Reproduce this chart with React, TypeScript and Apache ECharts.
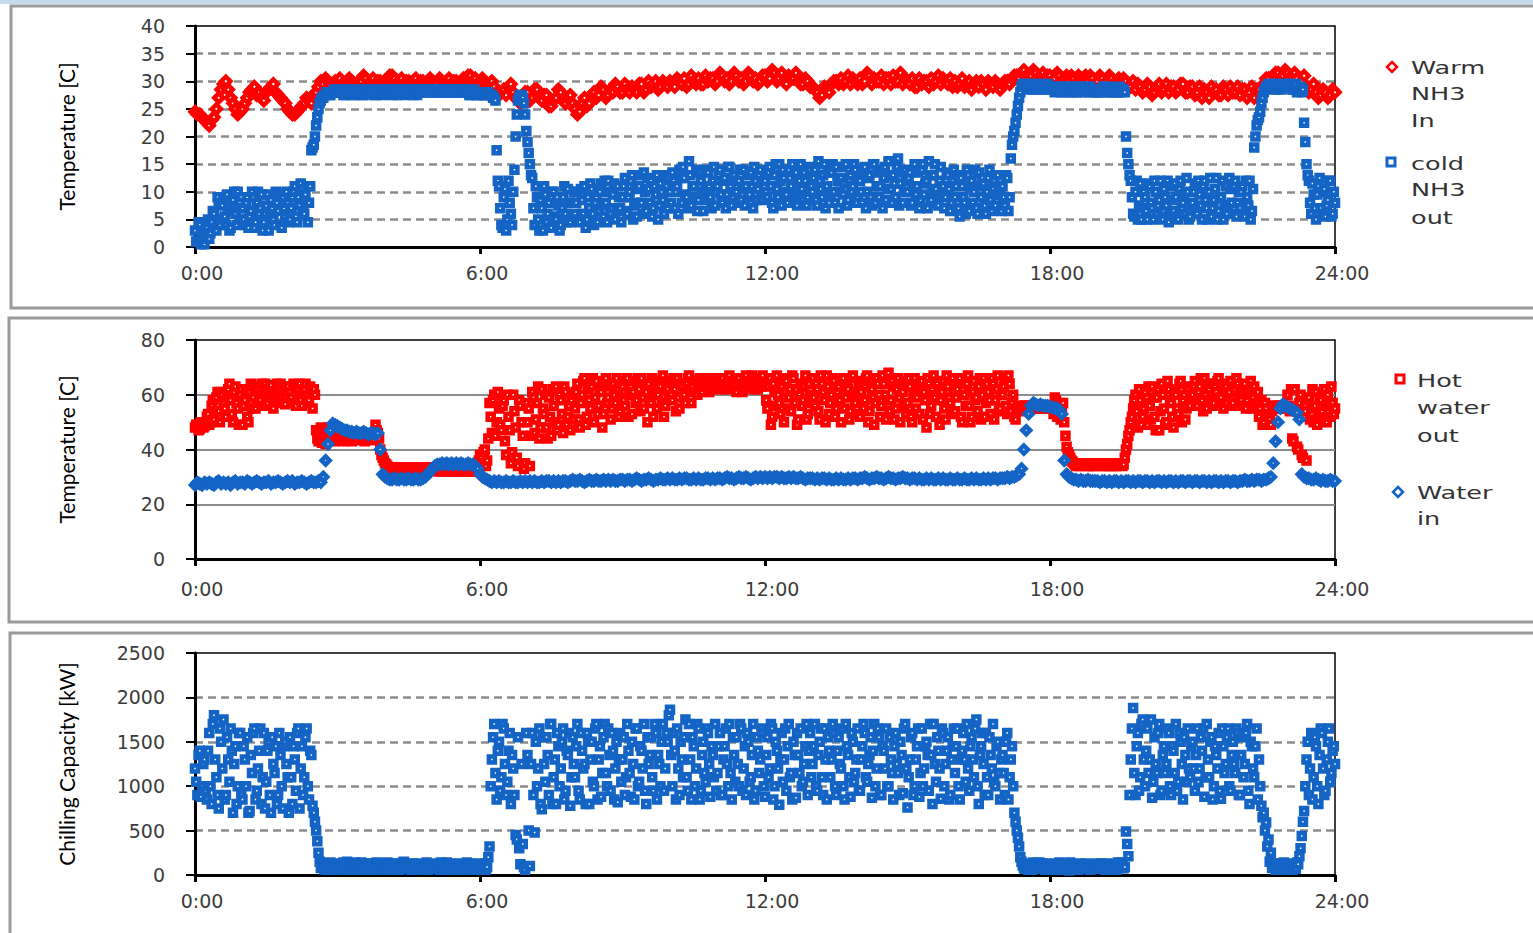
import { useEffect, useRef } from 'react';
import * as echarts from 'echarts';

// ---- sampling (hours) ----
const STEP_FINE = 0.05;
const STEP_COARSE = 0.1;

// ---- panel 1: Temperature [C] ----
// Warm NH3 In, read at 0.0, 0.1, 0.2 ... h
const warmNH3In = [
  24.5, 24, 23, 22, 23.5, 27, 29.5, 28.5, 26, 24,
  25, 27, 28.5, 27.5, 27, 28, 29, 28, 27, 26,
  24.5, 24, 25, 26, 26.5, 27.5, 29, 29.5, 30, 29.5,
  30, 29.5, 30, 30, 29.5, 30, 30.5, 30, 29.5, 30,
  30, 31, 30.5, 30, 29.5, 30, 30, 29.5, 30, 30,
  30, 29.5, 30, 30, 29.5, 30, 30, 30.5, 31, 30.5,
  30, 30, 29.5, 29, 27.5, 28.5, 29, 28, 26.5, 27,
  28, 27, 28.5, 26.5, 27.5, 25.5, 27, 28, 26, 27.5,
  25, 24.5, 27, 26, 28, 27.5, 28.5, 27.5, 28, 29,
  28, 28.5, 29, 28, 29.5, 28.5, 29, 30, 29, 29.5,
  30, 29, 30, 30.5, 29.5, 30, 30.5, 29.5, 30, 30.5,
  30, 31, 30.5, 30, 31, 30.5, 30, 31, 30.5, 30,
  31, 30.5, 31.5, 30.5, 30, 31, 30.5, 30, 29.5, 30,
  29, 28, 27.5, 28.5, 29.5, 30, 30.5, 30, 29.5, 30,
  30.5, 30, 31, 30.5, 30, 29.5, 30.5, 31, 30, 29.5,
  30, 30.5, 29, 29.5, 30, 30.5, 30, 29.5, 30, 30.5,
  30, 29.5, 29, 30, 29.5, 29, 29.5, 30, 29, 29.5,
  29.5, 30, 30.5, 31, 31.5, 31, 31, 31.5, 31, 30.5,
  31, 30.5, 31, 30.5, 30, 30.5, 31, 30.5, 30, 30.5,
  30, 30.5, 30, 30.5, 30, 29.5, 30, 29, 28.5, 29,
  28.5, 29, 28, 29.5, 28.5, 28, 29, 28.5, 29.5, 28,
  29, 28, 27, 28, 29, 28.5, 27.5, 28.5, 29, 28,
  27.5, 28.5, 28, 27, 28.5, 29.5, 30.5, 31, 31.5, 31,
  31.5, 31, 30.5, 30, 29, 28.5, 28, 27.5, 28, 27.5,
  28,
];
// Warm NH3 In, read at 0.05, 0.15, 0.25 ... h
const warmNH3InMid = [
  24, 23.5, 22.5, 23, 25, 28.5, 30, 27, 25, 24.5,
  26, 28, 29, 28, 26.5, 28.5, 29.5, 27.5, 26.5, 25,
  24, 24.5, 25.5, 27, 26, 28, 30, 30.5, 29.5, 30,
  30.5, 29.5, 30.5, 29.5, 30, 31, 29.5, 30.5, 30, 29.5,
  30.5, 31, 29.5, 30.5, 30, 29.5, 30.5, 30, 29.5, 30.5,
  29.5, 30.5, 29.5, 30.5, 30, 29.5, 30.5, 31, 30, 29.5,
  30.5, 29.5, 30, 28, 28, 27.5, 29.5, 27, 26, 28,
  26.5, 28.5, 27, 27.5, 25.5, 26.5, 28.5, 26.5, 27, 26,
  24, 26, 25.5, 27.5, 27, 29, 27, 28.5, 29.5, 28,
  29.5, 28, 28.5, 29.5, 28, 30, 29.5, 28.5, 30, 29,
  29.5, 30.5, 29.5, 29, 31, 29.5, 29.5, 31, 30.5, 29.5,
  31.5, 30, 29.5, 31.5, 30, 29.5, 31.5, 30, 29.5, 31,
  30, 32, 30, 31.5, 29.5, 30.5, 31.5, 29.5, 30.5, 29,
  28.5, 27, 29, 28, 30, 29.5, 29.5, 31, 30.5, 29.5,
  29.5, 31.5, 29.5, 30, 31, 30.5, 29.5, 30, 31.5, 30.5,
  29.5, 29, 30.5, 30, 29, 29.5, 31, 30.5, 29.5, 29,
  29, 30.5, 29.5, 28.5, 30, 30, 28.5, 29.5, 30, 28.5,
  30, 29.5, 31, 30.5, 32, 30.5, 32, 30.5, 31.5, 31,
  30, 31.5, 30, 31, 31, 29.5, 30.5, 31, 31, 29.5,
  31, 29.5, 31, 29.5, 30.5, 30.5, 29, 30, 29.5, 28,
  29.5, 27.5, 29, 28, 29.5, 29, 28, 29.5, 28, 29,
  27.5, 29, 28.5, 27, 28, 27.5, 29, 27.5, 28, 29,
  28.5, 27, 29, 28.5, 27.5, 30.5, 29.5, 31.5, 30.5, 32,
  30.5, 31.5, 29.5, 31, 28, 29.5, 27, 28.5, 27, 28.5,
];

// cold NH3 out, read at 0.00, 0.05, 0.10 ... h
const coldNH3Out = [
  3, 1, 4, 2, 0.5, 3.5, 1.5, 4.5, 6, 3, 8, 5, 9, 4, 7, 3.5, 8.5, 6, 10, 5,
  7, 4, 9, 5.5, 10, 3.5, 8, 6, 9.5, 4.5, 7.5, 3, 8.5, 5, 10, 6.5, 4, 9, 5.5, 8,
  5, 9, 11, 4.5, 7.5, 10.5, 6, 11, 8, 17.5, 18.5, 22, 25, 26.5, 27, 27.5, 28, 27.5, 28, 28,
  28, 28.5, 28, 27.5, 28, 28.5, 28, 27.5, 28, 28.5, 28, 27.5, 28, 28, 28.5, 28, 27.5, 28, 28.5, 28,
  28, 28.5, 28, 28.5, 28, 27.5, 28, 28.5, 28, 28, 28.5, 28, 27.5, 28, 28.5, 28, 28, 28.5, 28, 28.5,
  28, 28.5, 28, 28, 28.5, 28, 28.5, 28, 28, 28.5, 28, 28.5, 28, 28, 28.5, 28, 27.5, 28, 28, 27.5,
  27.5, 28, 27.5, 28, 27.5, 27.5, 27, 17.5, 11, 4, 9, 3, 12, 6, 10, 20, 26.5, 27.5, 27, 24,
  19, 15, 12.5, 4, 9, 3, 7, 11, 4.5, 8, 3.5, 10, 5, 7.5, 4, 9, 6, 10.5, 4.5, 8,
  6, 10, 4.5, 8.5, 11, 5, 7, 10.5, 4, 9, 6.5, 11.5, 5.5, 8, 12, 6, 9.5, 5, 11, 7,
  9, 12.5, 6, 10, 13, 7.5, 5.5, 11, 8, 13.5, 6.5, 10.5, 12, 7, 9.5, 5, 11.5, 8.5, 13, 7,
  10, 13.5, 7, 11, 14, 8, 12.5, 9, 15.5, 7.5, 11, 14, 8.5, 12, 6.5, 10.5, 13.5, 9, 12, 7.5,
  11, 14, 8, 12.5, 9.5, 14.5, 7.5, 13, 10, 12, 8.5, 14, 11, 9, 13.5, 7, 12, 10.5, 14, 8.5,
  12, 9, 14.5, 8, 13, 10.5, 15, 7.5, 12.5, 9.5, 14, 11, 8, 13.5, 10, 15, 8.5, 12, 9, 14,
  10, 14, 7.5, 12, 9, 15, 11, 8, 13.5, 10, 14.5, 7, 12.5, 9.5, 15, 8.5, 13, 11, 14, 9,
  12, 8, 14.5, 10, 13, 7.5, 15, 11, 9, 14, 12.5, 8.5, 15.5, 10.5, 13, 9, 16, 11.5, 8, 14,
  10, 13.5, 8, 15, 11, 7, 14, 9.5, 12, 15.5, 8.5, 13, 10.5, 7.5, 14.5, 11, 9, 13, 6.5, 12,
  9, 13, 5.5, 11, 8, 14, 6.5, 12, 10, 7, 13.5, 9, 11.5, 6, 12.5, 8.5, 10.5, 7.5, 13, 9.5,
  11, 7.5, 12.5, 9, 18.5, 21, 24, 27, 29, 29.5, 29, 29.5, 29, 28.5, 29, 29.5, 29, 28.5, 29, 29.5,
  28.5, 29, 28, 28.5, 29, 28.5, 28, 28.5, 29, 28.5, 28, 28.5, 29, 28.5, 28, 28.5, 28.5, 29, 28.5, 28,
  28.5, 28, 28.5, 29, 28.5, 28, 28.5, 28.5, 28, 28.5, 28, 28.5, 20, 15, 12, 6, 10, 5, 11.5, 7,
  9, 5, 11, 7, 12, 6, 8.5, 5.5, 10.5, 7.5, 4.5, 11, 6.5, 9, 5, 12, 8, 6, 10, 5.5,
  8, 11.5, 6, 9.5, 5, 12, 7, 10, 5.5, 8.5, 12.5, 6.5, 9, 5, 11, 7.5, 10.5, 6, 12, 8,
  7, 11, 5.5, 9, 12, 6.5, 18, 22, 23.5, 26, 28, 29, 29.5, 29, 29.5, 29, 28.5, 29, 29.5, 29,
  29, 29.5, 28.5, 29, 28, 28.5, 28, 22.5, 15, 12, 6, 9.5, 5, 11, 7, 10, 5.5, 8.5, 12, 6,
  8,
];
// cold NH3 out, read at 0.025, 0.075, 0.125 ... h
const coldNH3OutMid = [
  1, 4.5, 0.5, 3, 2, 5, 2.5, 6.5, 3.5, 9, 4, 7.5, 5.5, 9.5, 3, 6.5, 10, 4, 7, 9,
  5, 8, 3.5, 6.5, 9, 4.5, 10, 7, 3, 6, 9.5, 5.5, 7, 4, 8, 9.5, 3.5, 7, 10, 4.5,
  7, 10, 5.5, 9, 11.5, 6.5, 9.5, 4.5, 11, 18, 20, 23.5, 26, 27, 27.5, 28, 27.5, 28, 28.5, 28,
  28.5, 28, 27.5, 28, 28.5, 28, 27.5, 28, 28.5, 28, 27.5, 28, 28.5, 28, 28, 27.5, 28, 28.5, 28, 27.5,
  28.5, 28, 28, 27.5, 28.5, 28, 28.5, 28, 27.5, 28.5, 28, 28, 28.5, 27.5, 28, 28, 28.5, 28, 28.5, 28,
  28.5, 28, 28.5, 28, 28, 28.5, 28, 28, 28.5, 28, 28, 28.5, 28, 28.5, 28, 27.5, 28, 28.5, 27.5, 28,
  28, 27.5, 27.5, 28, 27.5, 27, 26.5, 12, 7, 3.5, 10.5, 5, 8, 4, 14, 24, 27, 27.5, 26, 21,
  17, 13, 7, 11, 5, 8.5, 3, 9.5, 6, 3.5, 10, 5.5, 9, 3, 7, 11, 4.5, 8, 5.5, 10,
  8, 5, 10.5, 6, 3.5, 9, 11.5, 6, 8, 4.5, 10, 7.5, 12, 4.5, 10, 7, 11.5, 6.5, 9, 4.5,
  11, 6.5, 9, 12, 5, 10.5, 8, 13, 6, 10, 12.5, 8, 5.5, 11, 13, 7.5, 10, 6, 11, 12.5,
  8, 12, 10, 6, 12.5, 14.5, 9.5, 7, 13, 11, 9, 6.5, 13.5, 10, 14, 8.5, 11, 7, 14.5, 10,
  13, 9.5, 12, 7, 14.5, 11, 9, 12, 8, 14, 10.5, 7.5, 13, 9.5, 11, 14.5, 8.5, 13, 9, 12,
  10, 13.5, 11, 7, 15, 9, 12, 14, 10, 8, 12.5, 15, 9.5, 7.5, 12, 10.5, 13.5, 7.5, 14.5, 11,
  12.5, 8.5, 15.5, 10.5, 13, 7, 13.5, 9.5, 15, 8, 12, 10, 14.5, 11.5, 7.5, 12, 10, 15, 8, 12.5,
  10, 14, 7, 12.5, 9, 15, 8, 13.5, 11, 7, 14.5, 10.5, 13, 8, 11.5, 14.5, 7.5, 13.5, 10, 12,
  12.5, 7.5, 11, 9.5, 13.5, 8.5, 15, 11.5, 7, 13, 10, 15, 8, 12, 9.5, 7, 13.5, 10.5, 8, 14,
  11, 7, 12.5, 9, 6, 13, 10.5, 8, 14, 6, 11, 12.5, 7.5, 10, 14, 6.5, 12, 9.5, 11, 6.5,
  9, 13, 6.5, 16, 20, 22.5, 25.5, 28, 29.5, 29, 28.5, 29, 29.5, 29, 28.5, 29, 29.5, 28.5, 29, 28.5,
  29, 28.5, 28.5, 29, 28, 28.5, 29, 28.5, 28, 29, 28.5, 28, 28.5, 29, 28.5, 29, 28, 28.5, 28, 28.5,
  28, 28.5, 29, 28, 28.5, 29, 28, 28.5, 28, 29, 28.5, 28, 17, 13, 9, 5.5, 12, 7.5, 5, 10,
  6.5, 11.5, 8, 5, 10, 7.5, 12, 5, 9, 12, 6, 8.5, 11.5, 5.5, 10.5, 7, 9.5, 12.5, 5, 7.5,
  10, 6, 12, 7.5, 11, 8.5, 5, 12.5, 7, 10.5, 5, 9, 12, 7.5, 6, 12.5, 8, 11, 5.5, 10,
  10, 6, 12, 7.5, 5, 10.5, 20, 23, 24.5, 27, 28.5, 29, 29, 29.5, 28.5, 29.5, 29, 28.5, 29, 29.5,
  29.5, 29, 28.5, 29.5, 28.5, 29, 28.5, 19, 13, 8, 11.5, 7, 9.5, 12.5, 6, 10.5, 7.5, 12, 5.5, 10,
];

// ---- panel 2: Temperature [C] ----
// Hot water out, read at 0.00, 0.05 ... h
const hotWaterOut = [
  48, 49, 47.5, 50, 48.5, 52, 49, 56, 51, 59, 54, 61, 57, 52, 62, 58, 50, 63, 55, 60,
  49, 58, 52, 61, 55, 63, 57, 60, 64, 56, 62, 59, 63.5, 55, 61, 58, 64, 60, 56.5, 63,
  61, 57, 63, 59, 64, 56, 62, 60, 58, 61, 62, 47, 43, 48, 45, 42, 46, 44, 47, 44,
  45, 44, 43.5, 44.5, 45, 44, 43, 44.5, 45, 44, 43.5, 44, 45, 44.5, 43.5, 44, 49, 46, 40, 37,
  35, 34, 33.5, 33, 33.5, 33, 32.5, 33, 33.5, 33, 33, 33.5, 33, 32.5, 33, 33.5, 33, 32.5, 33, 33,
  33, 32.5, 33, 32.5, 32, 32.5, 33, 32, 32.5, 32, 32.5, 33, 32, 32.5, 32, 33, 32.5, 32, 33, 34,
  38, 35, 40, 36, 57, 46, 60, 50, 55, 47, 58, 38, 52, 35, 60, 48, 34, 56, 45, 35,
  50, 34, 61, 46, 57, 44, 62, 53, 48, 59, 45, 56, 63, 49, 58, 46, 61, 52, 47, 60,
  55, 64, 48, 60, 66, 52, 58, 63, 50, 65, 56, 61, 53, 66, 59, 51, 64, 57, 62, 54,
  63, 56, 66, 60, 53, 65, 58, 62, 66, 55, 61, 64, 57, 52, 65, 60, 63, 67, 56, 62,
  65, 58, 62, 66, 55, 63, 60, 64, 67, 57, 61, 65, 62, 64, 66, 63, 65, 62, 66, 64,
  65, 63, 66, 62, 64, 67, 63, 65, 61, 66, 64, 62, 67, 65, 63, 66, 64, 62, 65, 67,
  64, 55, 66, 52, 61, 67, 57, 63, 50, 65, 59, 54, 66, 62, 51, 64, 58, 67, 53, 60,
  66, 56, 62, 51, 64, 58, 67, 53, 60, 65, 55, 63, 50, 66, 59, 62, 54, 67, 57, 61,
  52, 65, 58, 67, 54, 62, 49, 66, 60, 56, 64, 51, 68, 58, 63, 55, 66, 50, 61, 65,
  57, 63, 50, 66, 59, 53, 65, 61, 48, 64, 56, 67, 52, 62, 58, 65, 51, 63, 57, 66,
  54, 62, 66, 50, 60, 64, 56, 52, 65, 59, 63, 51, 66, 57, 61, 53, 64, 58, 67, 55,
  60, 66, 53, 64, 57, 52, 55, 54, 56, 55, 56, 55.5, 56, 55, 56.5, 55, 56, 55.5, 56, 55,
  55, 56, 59, 52, 57, 54, 50, 41, 38, 36, 35, 34, 35, 34.5, 35, 34, 35, 34.5, 34, 35,
  34.5, 35, 34, 34.5, 35, 34, 34.5, 35, 34, 34.5, 35, 34.5, 40, 45, 50, 55, 60, 48, 58, 52,
  61, 49, 56, 63, 52, 59, 47, 64, 55, 50, 62, 57, 48, 60, 53, 65, 58, 51, 63, 56,
  60, 65, 56, 63, 58, 66, 55, 62, 64, 57, 61, 66, 59, 55, 63, 60, 65, 57, 62, 64,
  62, 56, 64, 58, 60, 55, 63, 57, 52, 58, 50, 55, 53, 49, 56, 55.5, 56, 55, 56, 55.5,
  60, 54, 44, 62, 41, 57, 38, 52, 36, 59, 55, 50, 61, 53, 58, 51, 56, 60, 52, 57,
  55,
];
// Hot water out, read at 0.025, 0.075 ... h
const hotWaterOutMid = [
  49, 47, 50, 48, 49.5, 53, 50, 58, 54, 61, 50, 60, 55, 59, 64, 53, 61, 57, 49, 62,
  56, 61, 50, 64, 59, 55, 62, 58, 61, 64, 57, 63, 60, 58, 64, 62, 57, 63, 59, 61,
  59, 64, 56, 62, 58, 61, 64, 57, 63, 55, 60, 44, 46, 42.5, 47, 43, 48, 45, 43, 46,
  44, 45, 43, 44.5, 43.5, 45, 44, 43.5, 44.5, 45, 44, 43, 44.5, 44, 45, 43.5, 47, 44, 38, 36,
  34.5, 33.5, 33, 33.5, 33, 32.5, 33.5, 33, 32.5, 33, 33.5, 33, 32.5, 33, 33.5, 33, 32.5, 33, 33.5, 32.5,
  32.5, 33, 32, 33, 32.5, 33, 32, 32.5, 33, 32.5, 32, 32.5, 33, 32, 32.5, 32.5, 32, 32.5, 33.5, 36,
  37, 39, 34, 44, 52, 58, 45, 61, 49, 56, 43, 60, 47, 39, 54, 37, 58, 50, 33, 57,
  55, 45, 59, 51, 63, 48, 55, 60, 44, 52, 62, 50, 47, 60, 53, 63, 49, 56, 58, 51,
  61, 51, 57, 65, 49, 62, 55, 66, 59, 53, 62, 48, 64, 57, 63, 55, 60, 66, 52, 59,
  58, 65, 52, 63, 61, 57, 66, 54, 59, 63, 50, 58, 66, 61, 55, 64, 57, 52, 64, 59,
  60, 66, 54, 59, 64, 61, 57, 66, 62, 63, 65, 60, 66, 61, 63, 65, 61, 64, 63, 66,
  62, 66, 64, 63, 66, 62, 65, 64, 66, 63, 61, 65, 63, 64, 67, 62, 65, 66, 63, 64,
  58, 63, 49, 64, 56, 60, 53, 66, 61, 55, 62, 67, 57, 49, 60, 56, 63, 51, 64, 57,
  59, 64, 54, 67, 61, 50, 63, 57, 66, 52, 61, 58, 65, 55, 63, 51, 66, 60, 53, 64,
  61, 55, 66, 50, 63, 59, 57, 64, 52, 67, 60, 58, 54, 65, 51, 62, 59, 64, 56, 53,
  66, 52, 60, 55, 64, 62, 51, 58, 66, 53, 62, 59, 64, 49, 61, 55, 67, 59, 53, 61,
  59, 65, 52, 62, 56, 67, 50, 61, 58, 54, 66, 60, 52, 64, 58, 66, 51, 62, 54, 60,
  63, 56, 67, 54, 60, 51, 56, 55, 55.5, 56, 55, 56, 55.5, 56, 55, 55.5, 56, 55, 55.5, 56,
  56, 53, 58, 55, 51, 57, 45, 39, 37, 35.5, 34.5, 35, 34, 35, 34.5, 35, 34, 35, 34.5, 34,
  35, 34.5, 35, 34, 34.5, 35, 34, 35, 34.5, 35, 34, 37, 42, 47, 52, 58, 54, 62, 49, 55,
  57, 63, 51, 59, 47, 62, 54, 60, 49, 65, 58, 52, 61, 55, 64, 50, 60, 55, 62, 59,
  63, 57, 61, 66, 54, 60, 64, 58, 56, 63, 65, 58, 62, 64, 57, 61, 56, 63, 66, 59,
  58, 63, 55, 61, 65, 59, 56, 61, 55, 49, 57, 52, 51, 54, 56, 55, 55.5, 56, 55, 56,
  56, 62, 43, 55, 40, 60, 37, 54, 58, 51, 62, 56, 49, 59, 54, 62, 50, 57, 63, 53,
];

// Water in, read at 0.00, 0.05 ... h
const waterIn = [
  27, 28, 27.5, 27, 28, 27.5, 28, 27.5, 27, 28, 28.5, 27.5, 28, 27.5, 28, 27, 28, 28.5, 27.5, 28,
  28, 27.5, 28.5, 28, 27.5, 28, 28.5, 28, 27.5, 28, 28, 28.5, 27.5, 28, 28, 28.5, 28, 27.5, 28, 28.5,
  28, 28.5, 27.5, 28, 28, 28.5, 28, 27.5, 28, 28.5, 28, 28, 28.5, 28, 30, 36, 42, 47, 49.5, 49,
  48.5, 48, 47.5, 47, 47, 46.5, 46.5, 46, 46.5, 46, 46, 46.5, 46, 45.5, 46, 46, 45.5, 46, 40, 31,
  30, 29.5, 29, 29, 29.5, 29, 29, 29.5, 29, 29, 29.5, 29, 29, 29.5, 29, 29, 29.5, 30, 31, 32,
  33, 34, 34.5, 34.5, 35, 34.5, 35, 34.5, 35, 34.5, 35, 34.5, 35, 34.5, 34.5, 35, 34.5, 34.5, 34, 33,
  31, 30, 29.5, 29, 28.5, 28, 28.5, 28, 28.5, 28, 28, 28.5, 28, 28, 28.5, 28, 28, 28.5, 28, 28.5,
  28, 28.5, 28, 28.5, 28, 28, 28.5, 28, 28.5, 28.5, 28, 28.5, 28, 28.5, 28, 28.5, 28.5, 28, 28.5, 29,
  28.5, 28.5, 29, 28.5, 28, 28.5, 29, 28.5, 28.5, 29, 28.5, 28.5, 29, 28.5, 29, 28.5, 29, 28.5, 28.5, 29,
  29, 28.5, 29, 29, 28.5, 29, 29.5, 29, 28.5, 29, 29, 29.5, 29, 28.5, 29, 29, 29.5, 29, 29, 29.5,
  29, 29.5, 29, 29, 29.5, 29, 29.5, 29.5, 29, 29, 29.5, 29, 29.5, 29, 29, 29.5, 29.5, 29, 29.5, 29,
  29.5, 29.5, 29, 29.5, 30, 29.5, 29.5, 29, 29.5, 30, 29.5, 29.5, 30, 29.5, 29, 29.5, 30, 29.5, 30, 29.5,
  30, 29.5, 30, 29.5, 30, 30, 29.5, 30, 29.5, 29.5, 30, 29.5, 30, 29.5, 29.5, 30, 29.5, 29, 29.5, 29.5,
  29.5, 29, 29.5, 29, 29.5, 29.5, 29, 29.5, 29, 29, 29.5, 29, 29.5, 29, 29, 29.5, 29, 29.5, 29.5, 29,
  29.5, 29.5, 30, 29.5, 29, 29.5, 29.5, 30, 29.5, 29.5, 29, 29.5, 30, 29.5, 29.5, 29, 29.5, 29.5, 30, 29.5,
  29.5, 29, 29.5, 29.5, 29, 29.5, 29, 29, 29.5, 29, 29.5, 29, 29, 29.5, 29, 29.5, 29, 29, 29.5, 29,
  29, 29.5, 29, 29, 29.5, 29, 29, 29.5, 29, 29.5, 29, 29, 29.5, 29, 29.5, 29, 29.5, 29.5, 29, 29.5,
  29.5, 29.5, 30, 29.5, 30, 30, 30.5, 31, 33, 40, 47, 53, 56, 57, 56.5, 56, 56.5, 56, 56, 56,
  55.5, 55.5, 55, 55, 54.5, 53, 36, 31, 30, 29.5, 29, 29, 28.5, 29, 28.5, 28.5, 29, 28.5, 28.5, 28.5,
  28.5, 28, 28.5, 28.5, 28, 28.5, 28, 28.5, 28.5, 28, 28.5, 28, 28.5, 28.5, 28, 28.5, 28, 28.5, 28.5, 28,
  28.5, 28.5, 28, 28.5, 28, 28.5, 28.5, 28, 28.5, 28, 28.5, 28.5, 28, 28.5, 28, 28.5, 28.5, 28, 28.5, 28.5,
  28, 28.5, 28.5, 28, 28.5, 28.5, 28, 28.5, 28, 28.5, 28.5, 28, 28.5, 28, 28.5, 28.5, 28, 28.5, 28.5, 28,
  28.5, 28.5, 29, 28.5, 28.5, 29, 28.5, 29, 29, 28.5, 29, 29, 29.5, 30, 35, 43, 50, 55, 56.5, 56,
  55.5, 55, 54.5, 54, 53.5, 51, 31, 30, 29.5, 29.5, 29, 29, 29.5, 29, 28.5, 29, 28.5, 28.5, 29, 28.5,
  28.5,
];

// ---- panel 3: Chilling Capacity [kW] ----
// read at 0.00, 0.05 ... h
const chillingCapacity = [
  1200, 900, 1400, 1000, 1300, 850, 1600, 800, 1800, 1100, 750, 1500, 1750, 900, 1300, 1650, 700, 1450, 1000, 1600,
  850, 1300, 1550, 720, 1150, 1650, 950, 1400, 800, 1600, 1050, 1500, 700, 1250, 1450, 900, 1350, 750, 1500, 1100,
  1550, 800, 1300, 1600, 750, 1450, 1100, 1650, 850, 1350, 700, 500, 250, 80, 120, 60, 100, 140, 80, 110,
  90, 130, 60, 110, 150, 80, 100, 60, 120, 90, 140, 70, 100, 130, 60, 90, 120, 80, 110, 60,
  100, 140, 70, 110, 90, 130, 60, 100, 150, 80, 120, 60, 100, 130, 90, 70, 120, 100, 60, 110,
  130, 80, 100, 60, 120, 90, 140, 70, 110, 60, 100, 130, 80, 120, 60, 90, 130, 70, 110, 90,
  100, 60, 130, 90, 320, 1300, 1700, 850, 1500, 1100, 1650, 900, 1400, 800, 1200, 450, 1550, 120, 350, 60,
  1350, 100, 1600, 480, 1000, 1650, 740, 1250, 1550, 900, 1700, 1100, 800, 1450, 1200, 1650, 950, 1350, 780, 1550,
  1100, 1700, 850, 1400, 1250, 1600, 800, 1500, 1000, 1700, 1300, 880, 1550, 1150, 1650, 950, 1400, 1200, 820, 1600,
  1300, 900, 1700, 1150, 1500, 850, 1650, 1050, 1400, 1700, 800, 1250, 1550, 950, 1600, 1350, 1000, 1700, 1200, 1500,
  1860, 1000, 1400, 1650, 900, 1300, 1550, 1100, 1700, 850, 1450, 1200, 1650, 950, 1500, 1050, 1600, 880, 1350, 1700,
  1150, 1600, 900, 1450, 1250, 1700, 850, 1350, 1550, 1000, 1650, 1200, 900, 1500, 1100, 1700, 950, 1400, 1300, 1600,
  880, 1550, 1200, 1650, 1000, 1400, 790, 1600, 1300, 950, 1700, 1150, 1500, 870, 1350, 1650, 1050, 1450, 900, 1600,
  1250, 1700, 950, 1500, 1100, 1650, 850, 1400, 1300, 1600, 900, 1550, 1200, 1000, 1700, 1350, 880, 1500, 1150, 1650,
  950, 1450, 1600, 1050, 1350, 870, 1700, 1200, 1550, 900, 1400, 1650, 1000, 1300, 850, 1600, 1150, 1500, 920, 1700,
  760, 1300, 1600, 1000, 1450, 880, 1650, 1200, 1500, 950, 1350, 1700, 1050, 1400, 860, 1600, 1250, 1550, 900, 1450,
  1150, 1650, 850, 1400, 1300, 1700, 950, 1550, 1100, 1750, 800, 1450, 1250, 1600, 900, 1350, 1700, 1000, 1500, 850,
  1350, 900, 1600, 1100, 1450, 700, 500, 320, 150, 80, 120, 60, 100, 140, 70, 110, 90, 130, 60, 100,
  80, 120, 60, 100, 140, 70, 90, 130, 50, 110, 80, 120, 60, 100, 70, 130, 90, 60, 110, 80,
  120, 70, 100, 60, 130, 90, 80, 120, 60, 100, 140, 75, 490, 210, 1300, 1880, 900, 1600, 1100, 1750,
  1000, 1650, 1300, 870, 1550, 1150, 1700, 950, 1450, 1250, 1600, 900, 1400, 1700, 1050, 1500, 850, 1350, 1650, 1100,
  1500, 950, 1650, 1200, 1400, 880, 1700, 1100, 1550, 1000, 1350, 1600, 860, 1450, 1250, 1650, 950, 1500, 1150, 1600,
  900, 1550, 1250, 1700, 800, 1450, 1100, 1650, 1300, 780, 700, 590, 400, 250, 100, 60, 130, 80, 110, 70,
  90, 120, 60, 100, 140, 210, 440, 720, 1300, 900, 1600, 1100, 1450, 800, 1650, 1200, 950, 1500, 1050, 1400,
  1250,
];
// read at 0.025, 0.075 ... h
const chillingCapacityMid = [
  1050, 1350, 880, 1250, 950, 1400, 1000, 1700, 1300, 900, 1650, 1200, 850, 1550, 1050, 1400, 1250, 800, 1600, 900,
  1450, 1000, 700, 1350, 1600, 850, 1200, 1650, 1100, 750, 1400, 900, 1550, 1150, 800, 1600, 1000, 1450, 1250, 700,
  1100, 1450, 950, 1650, 1200, 900, 1550, 1000, 1400, 780, 600, 380, 150, 110, 70, 130, 90, 60, 120, 100,
  110, 70, 140, 90, 60, 120, 80, 140, 70, 110, 60, 100, 130, 80, 110, 70, 140, 100, 60, 130,
  70, 110, 130, 60, 120, 80, 100, 140, 70, 110, 90, 130, 80, 60, 120, 100, 80, 140, 90, 70,
  90, 120, 70, 140, 80, 110, 60, 130, 90, 120, 70, 100, 60, 90, 140, 110, 80, 100, 60, 130,
  80, 120, 60, 200, 1000, 1550, 1150, 1400, 950, 1700, 1250, 1050, 1600, 1350, 900, 400, 300, 1250, 90, 1600,
  500, 1250, 900, 1500, 1200, 800, 1550, 1050, 1350, 1700, 800, 1300, 1600, 1000, 1500, 850, 1400, 1600, 1100, 1250,
  1450, 950, 1600, 1200, 800, 1500, 1300, 1050, 1650, 850, 1450, 1150, 1700, 1000, 1350, 1600, 850, 1500, 1300, 1050,
  1550, 1100, 1400, 880, 1250, 1650, 1000, 1450, 1200, 950, 1550, 1350, 1100, 1700, 850, 1250, 1500, 950, 1600, 1800,
  1350, 1600, 850, 1200, 1500, 1100, 1750, 950, 1300, 1550, 1000, 1700, 850, 1350, 1150, 1650, 1250, 1450, 1100, 950,
  1450, 900, 1300, 1650, 1000, 1150, 1550, 1050, 1250, 1700, 950, 1450, 1600, 1050, 1350, 850, 1550, 1150, 1650, 1000,
  1350, 1100, 1700, 850, 1500, 1200, 1300, 1050, 1650, 1450, 1100, 850, 1350, 1600, 1150, 1000, 1250, 1700, 1400, 1100,
  1450, 1000, 1350, 1650, 900, 1300, 1550, 1100, 1700, 1000, 1400, 1250, 1650, 850, 1450, 1100, 1600, 1050, 1300, 950,
  1300, 1700, 1100, 1250, 1550, 1400, 1000, 1650, 900, 1450, 1200, 1000, 1550, 1150, 1450, 1250, 900, 1350, 1650, 1200,
  1100, 1550, 900, 1300, 1650, 1150, 1000, 1450, 1350, 1700, 800, 1250, 1550, 1200, 1650, 1000, 1400, 850, 1300, 1650,
  1450, 1000, 1300, 1600, 1050, 1200, 1450, 1300, 1650, 1000, 1350, 1600, 900, 1100, 1550, 1200, 1050, 1450, 1150, 1300,
  1150, 1500, 850, 1300, 1000, 600, 420, 200, 110, 70, 130, 90, 60, 120, 80, 140, 70, 100, 130, 80,
  110, 70, 130, 90, 60, 120, 100, 70, 140, 80, 110, 60, 130, 90, 110, 70, 120, 100, 80, 130,
  90, 130, 70, 110, 80, 120, 60, 100, 140, 80, 110, 90, 350, 900, 1650, 1150, 1450, 950, 1700, 1300,
  1400, 1150, 1750, 1050, 1250, 1600, 900, 1350, 1150, 1650, 1000, 1450, 1150, 950, 1600, 1250, 1550, 1050, 1200, 1450,
  1200, 1350, 1050, 1550, 1650, 1100, 1300, 1500, 850, 1450, 1200, 950, 1650, 1150, 1550, 1000, 1350, 1250, 1650, 900,
  1350, 1100, 1600, 950, 1500, 1200, 1450, 850, 1000, 650, 500, 320, 150, 80, 130, 70, 110, 90, 140, 60,
  110, 80, 130, 70, 120, 300, 600, 1000, 1500, 1200, 850, 1550, 1000, 1350, 1600, 900, 1300, 1650, 1150, 1450,
];

const RED = '#ff0000';
const BLUE = '#1464c6';
const GRID_GRAY = '#8c8c8c';
const TICK_FONT = 'DejaVu Sans';
const NAME_FONT = 'Lato';

function toPoints(values: number[], step: number, offset = 0) {
  return values.map((v, i) => [Math.round((offset + i * step) * 1000) / 1000, v]);
}

function merged(a: number[][], b: number[][]) {
  return [...a, ...b].sort((p, q) => p[0] - q[0]);
}

function splitColors(n: number) {
  const arr: string[] = [];
  for (let i = 0; i < n; i++) arr.push(i === 0 || i === n - 1 ? 'rgba(0,0,0,0)' : GRID_GRAY);
  return arr;
}

function xAxisFor(gridIndex: number, margin: number) {
  return {
    type: 'value',
    gridIndex,
    min: 0,
    max: 24,
    interval: 6,
    axisLine: { show: true, onZero: false, lineStyle: { color: '#000', width: 3 } },
    axisTick: { show: true, inside: false, length: 7, lineStyle: { color: '#000', width: 3 } },
    axisLabel: {
      margin,
      fontFamily: TICK_FONT,
      fontSize: 19,
      color: '#3c3c3c',
      padding: [0, 0, 0, 14],
      formatter: (v: number) => `${v}:00`,
    },
    splitLine: { show: false },
  };
}

function yAxisFor(gridIndex: number, max: number, interval: number, name: string, dashed: boolean) {
  const n = Math.round(max / interval) + 1;
  return {
    type: 'value',
    gridIndex,
    min: 0,
    max,
    interval,
    name,
    nameLocation: 'middle',
    nameRotate: 90,
    nameGap: 118,
    nameTextStyle: { fontFamily: NAME_FONT, fontSize: 21, color: '#000' },
    axisLine: { show: true, lineStyle: { color: '#000', width: 3 } },
    axisTick: { show: true, inside: false, length: 9, lineStyle: { color: '#000', width: 2 } },
    axisLabel: {
      margin: 30,
      fontFamily: TICK_FONT,
      fontSize: 19,
      color: '#3c3c3c',
      formatter: (v: number) => String(v),
    },
    splitLine: {
      show: true,
      lineStyle: {
        color: splitColors(n),
        width: dashed ? 2.5 : 2,
        type: dashed ? [8, 5] : 'solid',
      },
    },
  };
}

function hollow(symbol: string, size: number, color: string, bw: number) {
  return {
    symbol,
    symbolSize: size,
    itemStyle: { color: '#ffffff', borderColor: color, borderWidth: bw, opacity: 1 },
    silent: true,
  };
}

function legendText(x: number, y: number, text: string) {
  return {
    type: 'text',
    x,
    y,
    scaleX: 1.42,
    silent: true,
    style: {
      text,
      fontFamily: TICK_FONT,
      fontSize: 18,
      fill: '#333333',
      align: 'left',
      verticalAlign: 'middle',
    },
  };
}

function legendDiamond(x: number, y: number, color: string) {
  return {
    type: 'polygon',
    x,
    y,
    silent: true,
    shape: { points: [[0, -5], [5, 0], [0, 5], [-5, 0]] },
    style: { fill: '#fff', stroke: color, lineWidth: 2.5 },
  };
}

function legendSquare(x: number, y: number, color: string) {
  return {
    type: 'rect',
    x,
    y,
    silent: true,
    shape: { x: -4, y: -4, width: 8, height: 8 },
    style: { fill: '#fff', stroke: color, lineWidth: 3 },
  };
}

function frame(x: number, y: number, w: number, h: number) {
  return {
    type: 'rect',
    silent: true,
    z: -10,
    shape: { x, y, width: w, height: h },
    style: { fill: 'none', stroke: '#9a9a9a', lineWidth: 3 },
  };
}

export default function App() {
  const ref = useRef<HTMLDivElement>(null);

  useEffect(() => {
    if (!ref.current) return;
    const chart = echarts.init(ref.current, undefined, { renderer: 'svg' });

    const option = {
      animation: false,
      backgroundColor: '#ffffff',
      grid: [
        { left: 195, right: 198, top: 26, height: 221, show: true, borderColor: '#000', borderWidth: 1.5 },
        { left: 195, right: 198, top: 340, height: 219, show: true, borderColor: '#000', borderWidth: 1.5 },
        { left: 195, right: 198, top: 653, height: 222, show: true, borderColor: '#000', borderWidth: 1.5 },
      ],
      xAxis: [xAxisFor(0, 16), xAxisFor(1, 20), xAxisFor(2, 16)],
      yAxis: [
        yAxisFor(0, 40, 5, 'Temperature [C]', true),
        yAxisFor(1, 80, 20, 'Temperature [C]', false),
        yAxisFor(2, 2500, 500, 'Chilling Capacity [kW]', true),
      ],
      graphic: [
        { type: 'rect', silent: true, z: -10, shape: { x: 0, y: 0, width: 1533, height: 4 }, style: { fill: '#c4dbef' } },
        frame(11, 6, 1540, 302),
        frame(9, 318, 1540, 304),
        frame(10, 633, 1540, 320),
        legendDiamond(1392, 67, RED),
        legendText(1411, 67, 'Warm'),
        legendText(1411, 93, 'NH3'),
        legendText(1411, 120, 'In'),
        legendSquare(1391, 162, BLUE),
        legendText(1411, 163, 'cold'),
        legendText(1411, 189, 'NH3'),
        legendText(1411, 217, 'out'),
        legendSquare(1400, 379, RED),
        legendText(1417, 380, 'Hot'),
        legendText(1417, 407, 'water'),
        legendText(1417, 435, 'out'),
        legendDiamond(1398, 492, BLUE),
        legendText(1417, 492, 'Water'),
        legendText(1417, 518, 'in'),
      ],
      series: [
        {
          type: 'scatter', name: 'Warm NH3 In', xAxisIndex: 0, yAxisIndex: 0,
          data: merged(toPoints(warmNH3In, STEP_COARSE), toPoints(warmNH3InMid, STEP_COARSE, 0.05)),
          ...hollow('diamond', 9, RED, 4.5),
        },
        {
          type: 'scatter', name: 'cold NH3 out', xAxisIndex: 0, yAxisIndex: 0,
          data: merged(toPoints(coldNH3Out, STEP_FINE), toPoints(coldNH3OutMid, STEP_FINE, 0.025)),
          ...hollow('rect', 6, BLUE, 4.5),
        },
        {
          type: 'scatter', name: 'Hot water out', xAxisIndex: 1, yAxisIndex: 1,
          data: merged(toPoints(hotWaterOut, STEP_FINE), toPoints(hotWaterOutMid, STEP_FINE, 0.025)),
          ...hollow('rect', 6, RED, 4.5),
        },
        {
          type: 'scatter', name: 'Water in', xAxisIndex: 1, yAxisIndex: 1,
          data: toPoints(waterIn, STEP_FINE),
          ...hollow('diamond', 8, BLUE, 4.5),
        },
        {
          type: 'scatter', name: 'Chilling Capacity', xAxisIndex: 2, yAxisIndex: 2,
          data: merged(toPoints(chillingCapacity, STEP_FINE), toPoints(chillingCapacityMid, STEP_FINE, 0.025)),
          ...hollow('rect', 6, BLUE, 4.5),
        },
      ],
    };

    chart.setOption(option as any);
    return () => chart.dispose();
  }, []);

  return (
    <div
      ref={ref}
      style={{ position: 'absolute', left: 0, top: 0, width: 1533, height: 933, background: '#fff' }}
    />
  );
}
